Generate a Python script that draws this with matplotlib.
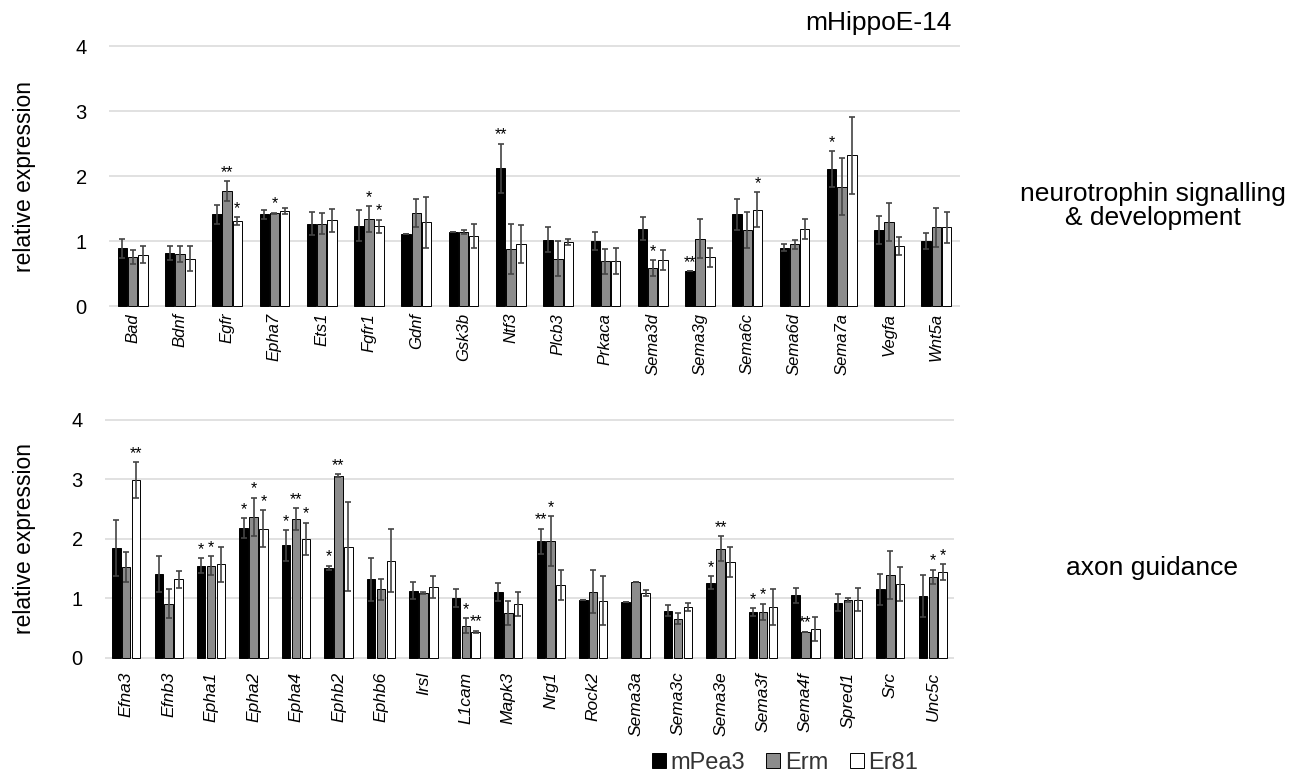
import matplotlib
matplotlib.use('Agg')
import matplotlib.pyplot as plt
from matplotlib.patches import Patch
import numpy as np

plt.rcParams['font.family'] = ['Liberation Sans', 'DejaVu Sans']

series_names = ['mPea3', 'Erm', 'Er81']

# ---- top panel: neurotrophin signalling & development ----
top_genes = ['Bad', 'Bdnf', 'Egfr', 'Epha7', 'Ets1', 'Fgfr1', 'Gdnf', 'Gsk3b', 'Ntf3',
             'Plcb3', 'Prkaca', 'Sema3d', 'Sema3g', 'Sema6c', 'Sema6d', 'Sema7a', 'Vegfa', 'Wnt5a']
top_mpea3 = [0.89, 0.82, 1.41, 1.41, 1.27, 1.24, 1.11, 1.14, 2.12, 1.02, 1.00, 1.19, 0.54, 1.41, 0.90, 2.11, 1.17, 1.00]
top_mpea3_err = [0.15, 0.11, 0.14, 0.07, 0.18, 0.24, 0.0, 0.0, 0.38, 0.19, 0.14, 0.18, 0.0, 0.24, 0.05, 0.27, 0.22, 0.12]
top_erm = [0.75, 0.80, 1.77, 1.43, 1.27, 1.34, 1.43, 1.14, 0.88, 0.73, 0.69, 0.59, 1.04, 1.17, 0.95, 1.84, 1.29, 1.21]
top_erm_err = [0.11, 0.12, 0.15, 0.01, 0.16, 0.20, 0.22, 0.03, 0.39, 0.27, 0.19, 0.12, 0.30, 0.28, 0.07, 0.44, 0.29, 0.30]
top_er81 = [0.79, 0.73, 1.31, 1.46, 1.32, 1.23, 1.29, 1.08, 0.96, 0.99, 0.70, 0.71, 0.75, 1.48, 1.19, 2.32, 0.92, 1.21]
top_er81_err = [0.13, 0.19, 0.06, 0.05, 0.18, 0.10, 0.39, 0.18, 0.29, 0.05, 0.20, 0.16, 0.15, 0.27, 0.15, 0.59, 0.14, 0.24]
top_stars = [('Egfr', 1, '**'), ('Egfr', 2, '*'), ('Epha7', 1, '*'), ('Fgfr1', 1, '*'), ('Fgfr1', 2, '*'),
             ('Ntf3', 0, '**'), ('Sema3d', 1, '*'), ('Sema3g', 0, '**'), ('Sema6c', 2, '*'), ('Sema7a', 0, '*')]

# ---- bottom panel: axon guidance ----
bot_genes = ['Efna3', 'Efnb3', 'Epha1', 'Epha2', 'Epha4', 'Ephb2', 'Ephb6', 'Irsl', 'L1cam', 'Mapk3',
             'Nrg1', 'Rock2', 'Sema3a', 'Sema3c', 'Sema3e', 'Sema3f', 'Sema4f', 'Spred1', 'Src', 'Unc5c']
bot_mpea3 = [1.85, 1.41, 1.55, 2.18, 1.89, 1.51, 1.32, 1.13, 1.00, 1.11, 1.96, 0.98, 0.94, 0.79, 1.26, 0.77, 1.05, 0.93, 1.15, 1.04]
bot_mpea3_err = [0.47, 0.30, 0.13, 0.17, 0.26, 0.04, 0.36, 0.14, 0.15, 0.15, 0.21, 0.0, 0.0, 0.09, 0.11, 0.07, 0.13, 0.15, 0.26, 0.35]
bot_erm = [1.52, 0.91, 1.55, 2.37, 2.33, 3.06, 1.15, 1.09, 0.54, 0.76, 1.96, 1.11, 1.28, 0.66, 1.83, 0.77, 0.44, 0.97, 1.39, 1.36]
bot_erm_err = [0.25, 0.24, 0.16, 0.32, 0.19, 0.02, 0.18, 0.02, 0.13, 0.20, 0.42, 0.36, 0.0, 0.09, 0.21, 0.14, 0.0, 0.03, 0.40, 0.12]
bot_er81 = [2.99, 1.32, 1.57, 2.17, 2.00, 1.87, 1.63, 1.19, 0.44, 0.91, 1.22, 0.96, 1.09, 0.86, 1.61, 0.85, 0.48, 0.98, 1.24, 1.44]
bot_er81_err = [0.30, 0.14, 0.30, 0.31, 0.27, 0.74, 0.53, 0.19, 0.02, 0.20, 0.25, 0.41, 0.05, 0.07, 0.25, 0.30, 0.20, 0.20, 0.28, 0.13]
bot_stars = [('Efna3', 2, '**'), ('Epha1', 0, '*'), ('Epha1', 1, '*'),
             ('Epha2', 0, '*'), ('Epha2', 1, '*'), ('Epha2', 2, '*'),
             ('Epha4', 0, '*'), ('Epha4', 1, '**'), ('Epha4', 2, '*'),
             ('Ephb2', 0, '*'), ('Ephb2', 1, '**'), ('L1cam', 1, '*'), ('L1cam', 2, '**'),
             ('Nrg1', 0, '**'), ('Nrg1', 1, '*'), ('Sema3e', 0, '*'), ('Sema3e', 1, '**'),
             ('Sema3f', 0, '*'), ('Sema3f', 1, '*'), ('Sema4f', 1, '**'), ('Unc5c', 1, '*'), ('Unc5c', 2, '*')]

colors = ['#000000', '#8c8c8c', '#ffffff']

W, H = 1304, 777
fig = plt.figure(figsize=(W / 100, H / 100), dpi=100)


def fig_rect(x0, x1, ytop, ybot):
    return [x0 / W, 1 - ybot / H, (x1 - x0) / W, (ybot - ytop) / H]


ax1 = fig.add_axes(fig_rect(109, 960, 45, 306.7))
ax2 = fig.add_axes(fig_rect(105, 954, 418.5, 658.5))


def draw(ax, genes, vals, errs, stars, width, step, xpad, xfs):
    x = np.arange(len(genes))
    for i, (v, e, c) in enumerate(zip(vals, errs, colors)):
        xi = x + (i - 1) * step
        ax.bar(xi, v, width, color=c, edgecolor='black', linewidth=0.7, zorder=2)
        ax.errorbar(xi, v, yerr=e, fmt='none', ecolor='#444444', elinewidth=1.2,
                    capsize=2.5, capthick=1.2, zorder=3)
    for g, s, lab in stars:
        j = genes.index(g)
        ax.annotate(lab, (x[j] + (s - 1) * step, vals[s][j] + errs[s][j]), xytext=(0, 3),
                    textcoords='offset points', ha='center', va='baseline', fontsize=11.5, zorder=4)
    ax.set_xlim(-0.5, len(genes) - 0.5)
    ax.set_ylim(-0.01, 4.02)
    ax.set_yticks([0, 1, 2, 3, 4])
    ax.set_yticklabels(['0', '1', '2', '3', '4'])
    ax.yaxis.grid(True, color='#dcdcdc', lw=1.2)
    ax.set_axisbelow(True)
    for sp in ax.spines.values():
        sp.set_visible(False)
    ax.tick_params(length=0)
    ax.tick_params(axis='y', labelsize=14.5, pad=16)
    ax.set_xticks(x)
    ax.set_xticklabels(genes, rotation=90, fontstyle='italic', fontsize=xfs)
    ax.tick_params(axis='x', pad=xpad)


draw(ax1, top_genes, [top_mpea3, top_erm, top_er81], [top_mpea3_err, top_erm_err, top_er81_err],
     top_stars, 0.2, 0.215, 4.5, 12)
draw(ax2, bot_genes, [bot_mpea3, bot_erm, bot_er81], [bot_mpea3_err, bot_erm_err, bot_er81_err],
     bot_stars, 0.2, 0.233, 9.5, 12.5)

fig.text(25 / W, 1 - 176 / H, 'relative expression', rotation=90, fontsize=16.5, ha='center', va='center')
fig.text(25 / W, 1 - 538 / H, 'relative expression', rotation=90, fontsize=16.5, ha='center', va='center')
fig.text(952 / W, 1 - 23 / H, 'mHippoE-14', ha='right', va='center', fontsize=19)
fig.text(1153 / W, 1 - 206 / H, 'neurotrophin signalling\n& development', ha='center', va='center',
         fontsize=19, linespacing=1.0)
fig.text(1152 / W, 1 - 568 / H, 'axon guidance', ha='center', va='center', fontsize=19)

handles = [Patch(facecolor=c, edgecolor='black', linewidth=0.7) for c in colors]
fig.legend(handles, series_names, ncol=3, loc='center', bbox_to_anchor=(785 / W, 1 - 763 / H),
           frameon=False, fontsize=17, handlelength=0.6, handleheight=0.6, handletextpad=0.2,
           columnspacing=0.9, labelcolor='#333333', borderpad=0)

fig.savefig('out.png', dpi=100)
